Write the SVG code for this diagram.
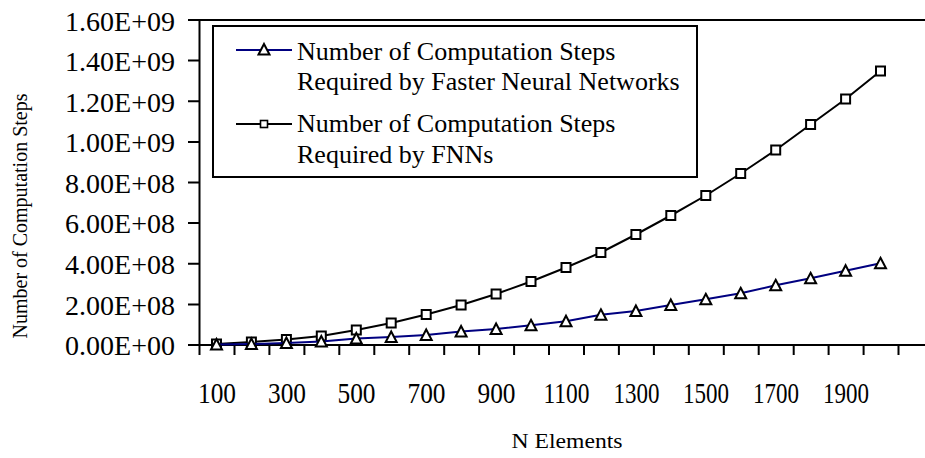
<svg xmlns="http://www.w3.org/2000/svg" xmlns:xlink="http://www.w3.org/1999/xlink" width="925" height="458" viewBox="0 0 925 458" font-family="'Liberation Serif', 'Times New Roman', 'DejaVu Serif', serif">
<style>
text{font-family:'Liberation Serif','Times New Roman','DejaVu Serif',serif;fill:#000}
.yl{font-size:27px;text-anchor:end}
.xl{font-size:30px;text-anchor:middle}
.lg{font-size:26px}
.ttl{font-size:20px;text-anchor:middle}
.ax{stroke:#000;stroke-width:2;fill:none}
.s1{stroke:#000080;stroke-width:2;fill:none;stroke-linejoin:round}
.s2{stroke:#000;stroke-width:2;fill:none;stroke-linejoin:round}
</style>
<defs>
<rect id="sq" x="-4.5" y="-4.5" width="9" height="9" fill="#fff" stroke="#000" stroke-width="2"/>
<rect id="sqs" x="-3.5" y="-3.5" width="7" height="7" fill="#fff" stroke="#000" stroke-width="1.6"/>
<path id="tri" d="M0,-5.5 L5.5,5 L-5.5,5 Z" fill="#fff" stroke="#000" stroke-width="2"/>
</defs>
<rect width="925" height="458" fill="#fff"/>
<g id="axes">
<path class="ax" d="M188,20 H925 M199.5,20 V355 M188,345 H925"/>
<path class="ax" d="M188,60.6 H199.5 M188,101.3 H199.5 M188,141.9 H199.5 M188,182.5 H199.5 M188,223.1 H199.5 M188,263.8 H199.5 M188,304.4 H199.5"/>
<path class="ax" d="M234.5,345 V355 M269.4,345 V355 M304.4,345 V355 M339.3,345 V355 M374.3,345 V355 M409.2,345 V355 M444.2,345 V355 M479.1,345 V355 M514.1,345 V355 M549,345 V355 M584,345 V355 M618.9,345 V355 M653.9,345 V355 M688.8,345 V355 M723.8,345 V355 M758.7,345 V355 M793.7,345 V355 M828.6,345 V355 M863.6,345 V355 M898.5,345 V355"/>
</g>
<g id="y-labels">
<text class="yl" x="175" y="30.5" textLength="110" lengthAdjust="spacingAndGlyphs">1.60E+09</text>
<text class="yl" x="175" y="71" textLength="110" lengthAdjust="spacingAndGlyphs">1.40E+09</text>
<text class="yl" x="175" y="111.5" textLength="110" lengthAdjust="spacingAndGlyphs">1.20E+09</text>
<text class="yl" x="175" y="152" textLength="110" lengthAdjust="spacingAndGlyphs">1.00E+09</text>
<text class="yl" x="175" y="192.5" textLength="110" lengthAdjust="spacingAndGlyphs">8.00E+08</text>
<text class="yl" x="175" y="233" textLength="110" lengthAdjust="spacingAndGlyphs">6.00E+08</text>
<text class="yl" x="175" y="274" textLength="110" lengthAdjust="spacingAndGlyphs">4.00E+08</text>
<text class="yl" x="175" y="314.5" textLength="110" lengthAdjust="spacingAndGlyphs">2.00E+08</text>
<text class="yl" x="175" y="355" textLength="110" lengthAdjust="spacingAndGlyphs">0.00E+00</text>
</g>
<g id="x-labels">
<text class="xl" x="217" y="403" textLength="38" lengthAdjust="spacingAndGlyphs">100</text>
<text class="xl" x="287" y="403" textLength="38" lengthAdjust="spacingAndGlyphs">300</text>
<text class="xl" x="356.5" y="403" textLength="38" lengthAdjust="spacingAndGlyphs">500</text>
<text class="xl" x="426.5" y="403" textLength="38" lengthAdjust="spacingAndGlyphs">700</text>
<text class="xl" x="496.5" y="403" textLength="38" lengthAdjust="spacingAndGlyphs">900</text>
<text class="xl" x="566.5" y="403" textLength="46" lengthAdjust="spacingAndGlyphs">1100</text>
<text class="xl" x="636.5" y="403" textLength="46" lengthAdjust="spacingAndGlyphs">1300</text>
<text class="xl" x="706" y="403" textLength="46" lengthAdjust="spacingAndGlyphs">1500</text>
<text class="xl" x="776" y="403" textLength="46" lengthAdjust="spacingAndGlyphs">1700</text>
<text class="xl" x="846" y="403" textLength="46" lengthAdjust="spacingAndGlyphs">1900</text>
</g>
<g id="axis-titles">
<text class="ttl" x="567" y="448" textLength="111" lengthAdjust="spacingAndGlyphs">N Elements</text>
<text class="ttl" transform="translate(27,216) rotate(-90)" x="0" y="0">Number of Computation Steps</text>
</g>
<g id="series-fnn">
<polyline class="s2" points="216.5,344 251.4,342 286.4,339.5 321.3,336 356.3,330 391.2,323 426.2,314.5 461.1,305 496.1,294 531,281.5 566,267.5 600.9,252.5 635.9,234.5 670.8,215.5 705.8,195.5 740.7,173.5 775.7,150 810.6,124.5 845.6,99 880.5,71"/>
<use xlink:href="#sq" x="216.5" y="344"/><use xlink:href="#sq" x="251.4" y="342"/><use xlink:href="#sq" x="286.4" y="339.5"/><use xlink:href="#sq" x="321.3" y="336"/><use xlink:href="#sq" x="356.3" y="330"/><use xlink:href="#sq" x="391.2" y="323"/><use xlink:href="#sq" x="426.2" y="314.5"/><use xlink:href="#sq" x="461.1" y="305"/><use xlink:href="#sq" x="496.1" y="294"/><use xlink:href="#sq" x="531" y="281.5"/><use xlink:href="#sq" x="566" y="267.5"/><use xlink:href="#sq" x="600.9" y="252.5"/><use xlink:href="#sq" x="635.9" y="234.5"/><use xlink:href="#sq" x="670.8" y="215.5"/><use xlink:href="#sq" x="705.8" y="195.5"/><use xlink:href="#sq" x="740.7" y="173.5"/><use xlink:href="#sq" x="775.7" y="150"/><use xlink:href="#sq" x="810.6" y="124.5"/><use xlink:href="#sq" x="845.6" y="99"/><use xlink:href="#sq" x="880.5" y="71"/>
</g>
<g id="series-faster">
<polyline class="s1" points="216.5,344.5 251.4,344 286.4,343 321.3,341.5 356.3,338.5 391.2,337 426.2,335 461.1,331.5 496.1,329 531,325.3 566,321.2 600.9,314.8 635.9,311 670.8,305 705.8,299.3 740.7,293.3 775.7,285.3 810.6,278.3 845.6,270.7 880.5,263.3"/>
<use xlink:href="#tri" x="216.5" y="344.5"/><use xlink:href="#tri" x="251.4" y="344"/><use xlink:href="#tri" x="286.4" y="343"/><use xlink:href="#tri" x="321.3" y="341.5"/><use xlink:href="#tri" x="356.3" y="338.5"/><use xlink:href="#tri" x="391.2" y="337"/><use xlink:href="#tri" x="426.2" y="335"/><use xlink:href="#tri" x="461.1" y="331.5"/><use xlink:href="#tri" x="496.1" y="329"/><use xlink:href="#tri" x="531" y="325.3"/><use xlink:href="#tri" x="566" y="321.2"/><use xlink:href="#tri" x="600.9" y="314.8"/><use xlink:href="#tri" x="635.9" y="311"/><use xlink:href="#tri" x="670.8" y="305"/><use xlink:href="#tri" x="705.8" y="299.3"/><use xlink:href="#tri" x="740.7" y="293.3"/><use xlink:href="#tri" x="775.7" y="285.3"/><use xlink:href="#tri" x="810.6" y="278.3"/><use xlink:href="#tri" x="845.6" y="270.7"/><use xlink:href="#tri" x="880.5" y="263.3"/>
</g>
<g id="legend">
<rect x="213" y="26" width="484" height="151" fill="#fff" stroke="#000" stroke-width="2"/>
<path class="s1" d="M236,50 H292"/>
<use xlink:href="#tri" x="264" y="49.5"/>
<text class="lg" x="297" y="59.5">Number of Computation Steps</text>
<text class="lg" x="297" y="89.5">Required by Faster Neural Networks</text>
<path class="s2" d="M236,124 H292"/>
<use xlink:href="#sqs" x="264" y="124"/>
<text class="lg" x="297" y="132">Number of Computation Steps</text>
<text class="lg" x="297" y="162.5">Required by FNNs</text>
</g>
</svg>
